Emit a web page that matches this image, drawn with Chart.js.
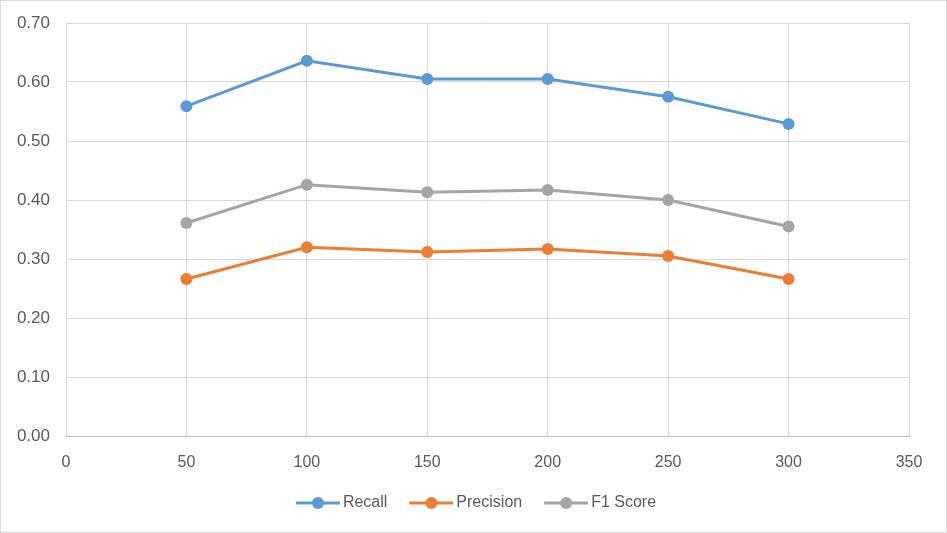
<!DOCTYPE html>
<html><head><meta charset="utf-8">
<script src="https://cdn.jsdelivr.net/npm/chart.js@4/dist/chart.umd.min.js"></script>
<style>
html,body{margin:0;padding:0;background:#fff;}
#wrap{width:947px;height:533px;box-sizing:border-box;border:1px solid #d9d9d9;position:relative;}
canvas{display:block;}
</style></head>
<body><div id="wrap"><canvas id="c" width="945" height="531"></canvas></div>
<script>
const xValues = [50, 100, 150, 200, 250, 300];
const recall = [0.559, 0.636, 0.605, 0.605, 0.575, 0.529];
const precision = [0.266, 0.320, 0.312, 0.317, 0.305, 0.266];
const f1Score = [0.361, 0.426, 0.413, 0.417, 0.400, 0.355];
const seriesNames = ['Recall', 'Precision', 'F1 Score'];
const colors = ['#5B9BD5', '#ED7D31', '#A5A5A5'];

function pts(vals){ return xValues.map((x,i)=>({x:x,y:vals[i]})); }
function legendIcon(color){
  const c=document.createElement('canvas'); c.width=49; c.height=14;
  const g=c.getContext('2d');
  g.strokeStyle=color; g.lineWidth=3; g.beginPath(); g.moveTo(5,7); g.lineTo(49,7); g.stroke();
  g.fillStyle=color; g.beginPath(); g.arc(27,7,6,0,Math.PI*2); g.fill();
  return c;
}
const series=[recall,precision,f1Score];
const datasets=series.map((v,i)=>({
  label:seriesNames[i], data:pts(v), borderColor:colors[i], backgroundColor:colors[i],
  borderWidth:3, pointRadius:6, pointHoverRadius:6, pointBorderWidth:0, showLine:true, tension:0,
  legendIcon:legendIcon(colors[i])
}));
const font={family:'"Liberation Sans", Arial, sans-serif', size:16};
const shiftLegend={id:'shiftLegend',afterLayout:c=>{ if(c.legend){ c.legend.left+=21; c.legend.right+=21; } }};
new Chart(document.getElementById('c'),{
  type:'scatter',
  data:{datasets:datasets},
  plugins:[shiftLegend],
  options:{
    responsive:false, animation:false,
    layout:{padding:{top:22,right:37,left:0,bottom:11}},
    scales:{
      x:{type:'linear',min:0,max:350,
        ticks:{stepSize:50,color:'#595959',font:font,padding:17},
        grid:{color:'#D9D9D9',drawTicks:false},
        border:{color:'#BFBFBF'},
        afterFit:s=>{s.height=37;}
      },
      y:{min:0,max:0.7,
        ticks:{stepSize:0.1,color:'#595959',font:{family:font.family,size:17},padding:16,callback:v=>v.toFixed(2)},
        grid:{color:'#D9D9D9',drawTicks:false},
        border:{display:false},
        afterFit:s=>{s.width=65; s.paddingTop=0; s.paddingBottom=0;}
      }
    },
    plugins:{
      tooltip:{enabled:false},
      legend:{position:'bottom',
        labels:{usePointStyle:true,pointStyleWidth:39,color:'#595959',font:font,padding:22,
          generateLabels:chart=>chart.data.datasets.map((d,i)=>({
            text:d.label, pointStyle:d.legendIcon, fillStyle:d.borderColor, strokeStyle:d.borderColor,
            lineWidth:0, hidden:false, datasetIndex:i, fontColor:'#595959'
          }))
        }
      }
    }
  }
});
</script></body></html>
